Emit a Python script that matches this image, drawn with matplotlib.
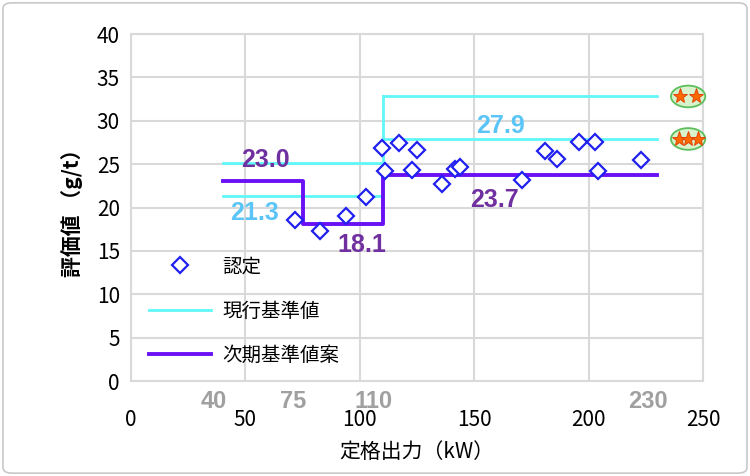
import numpy as np
import matplotlib
matplotlib.use('Agg')
import matplotlib.pyplot as plt
from matplotlib.patches import Ellipse, FancyBboxPatch

plt.rcParams['font.family'] = ['Noto Sans CJK JP', 'DejaVu Sans']

# 認定機の定格出力(kW)と評価値(g/t)
kw = [71.7, 82.6, 93.8, 102.6, 109.6, 111.0, 117.1, 122.9, 124.8,
      135.8, 141.6, 143.8, 170.7, 181.0, 186.0, 196.0, 202.8, 204.0, 222.7]
gt = [18.6, 17.3, 19.0, 21.2, 26.9, 24.2, 27.4, 24.3, 26.6,
      22.7, 24.4, 24.7, 23.2, 26.5, 25.6, 27.6, 27.6, 24.2, 25.5]

# 現行基準値 (区分ごと)
cur_lo_x = [40, 110]
cur_lo_a = [21.3, 21.3]
cur_lo_b = [25.1, 25.1]
cur_hi_x = [110, 230]
cur_hi_a = [27.9, 27.9]
cur_hi_b = [32.8, 32.8]

# 次期基準値案 (階段状)
nxt_x = [40, 75, 75, 110, 110, 230]
nxt_y = [23.0, 23.0, 18.1, 18.1, 23.7, 23.7]

bounds = [40, 75, 110, 230]
xticks = [0, 50, 100, 150, 200, 250]

cyan = '#5ff7f7'
purple = '#6a10f5'
txt_purple = '#7030a0'
txt_blue = '#5bc5f7'
grid_c = '#d9d9d9'

fig = plt.figure(figsize=(7.5, 4.76), dpi=100)
ax = fig.add_axes([131/750, 1 - 381/476, (703 - 131)/750, (381 - 34)/476])

fig.patches.append(FancyBboxPatch((0.004, 0.006), 0.992, 0.988,
                                  boxstyle='round,pad=0,rounding_size=0.012',
                                  transform=fig.transFigure, fill=False,
                                  edgecolor='#c8c8c8', linewidth=1.2))

ax.plot(cur_lo_x, cur_lo_a, color=cyan, lw=2, label='現行基準値', zorder=3)
ax.plot(cur_lo_x, cur_lo_b, color=cyan, lw=2, zorder=3)
ax.plot(cur_hi_x, cur_hi_a, color=cyan, lw=2, zorder=3)
ax.plot(cur_hi_x, cur_hi_b, color=cyan, lw=2, zorder=3)
ax.plot([110, 110], [cur_lo_b[0], cur_hi_b[0]], color=cyan, lw=2, zorder=3)

ax.plot(nxt_x, nxt_y, color=purple, lw=2.8, label='次期基準値案', zorder=4)

ax.plot(kw, gt, linestyle='none', marker='D', markersize=8,
        markerfacecolor='white', markeredgecolor='#2020f0',
        markeredgewidth=1.6, label='認定', zorder=5)

# 基準値ラベル
bold = dict(fontsize=18, fontweight='bold', family=['Liberation Sans', 'DejaVu Sans'],
            ha='center', va='center')
ax.text(58.6, 25.5, '23.0', color=txt_purple, **bold)
ax.text(54.1, 19.4, '21.3', color=txt_blue, **bold)
ax.text(100.9, 15.7, '18.1', color=txt_purple, **bold)
ax.text(161.3, 29.4, '27.9', color=txt_blue, **bold)
ax.text(159.0, 20.9, '23.7', color=txt_purple, **bold)

# 星マーク
for yy, n in [(cur_hi_b[0], 2), (cur_hi_a[0], 3)]:
    ax.add_patch(Ellipse((243.5, yy), 15, 2.5, facecolor='#d8f2cc',
                         edgecolor='#5cbf5c', lw=1.3, clip_on=False, zorder=6))
    xs = np.array([-3.4, 3.4]) if n == 2 else np.array([-4.2, 0.0, 4.2])
    ax.plot(243.5 + xs, [yy] * n, linestyle='none', marker='*', markersize=11,
            color='#ff6a00', markeredgecolor='#e03a00', markeredgewidth=0.6,
            clip_on=False, zorder=7)

ax.set_xlim(0, 250)
ax.set_ylim(0, 40)
ax.set_xticks(xticks)
ax.set_yticks(np.arange(0, 41, 5))
ax.grid(True, color=grid_c, lw=1.5)
ax.set_axisbelow(True)
for s in ax.spines.values():
    s.set_color(grid_c)
    s.set_linewidth(1.5)
ax.tick_params(length=0, labelsize=15, pad=20, axis='x')
ax.tick_params(length=0, labelsize=15, pad=8, axis='y')

# 区分境界の出力値
for b in bounds:
    ax.text(b - 4, -1.0, str(b), ha='center', va='top',
            color='#a0a0a0', fontsize=17, fontweight='bold',
            family=['Liberation Sans', 'DejaVu Sans'])

ax.set_xlabel('定格出力（kW）', fontsize=15, labelpad=7)
ax.set_ylabel('評価値 （g/t）', fontsize=15, labelpad=10, fontweight='bold')

h, l = ax.get_legend_handles_labels()
order = [2, 0, 1]
ax.legend([h[i] for i in order], [l[i] for i in order], loc='upper left',
          bbox_to_anchor=(0.0, 0.41), frameon=False, fontsize=14,
          handlelength=3.2, labelspacing=1.2, handletextpad=0.6)

fig.savefig('out.png', dpi=100)
